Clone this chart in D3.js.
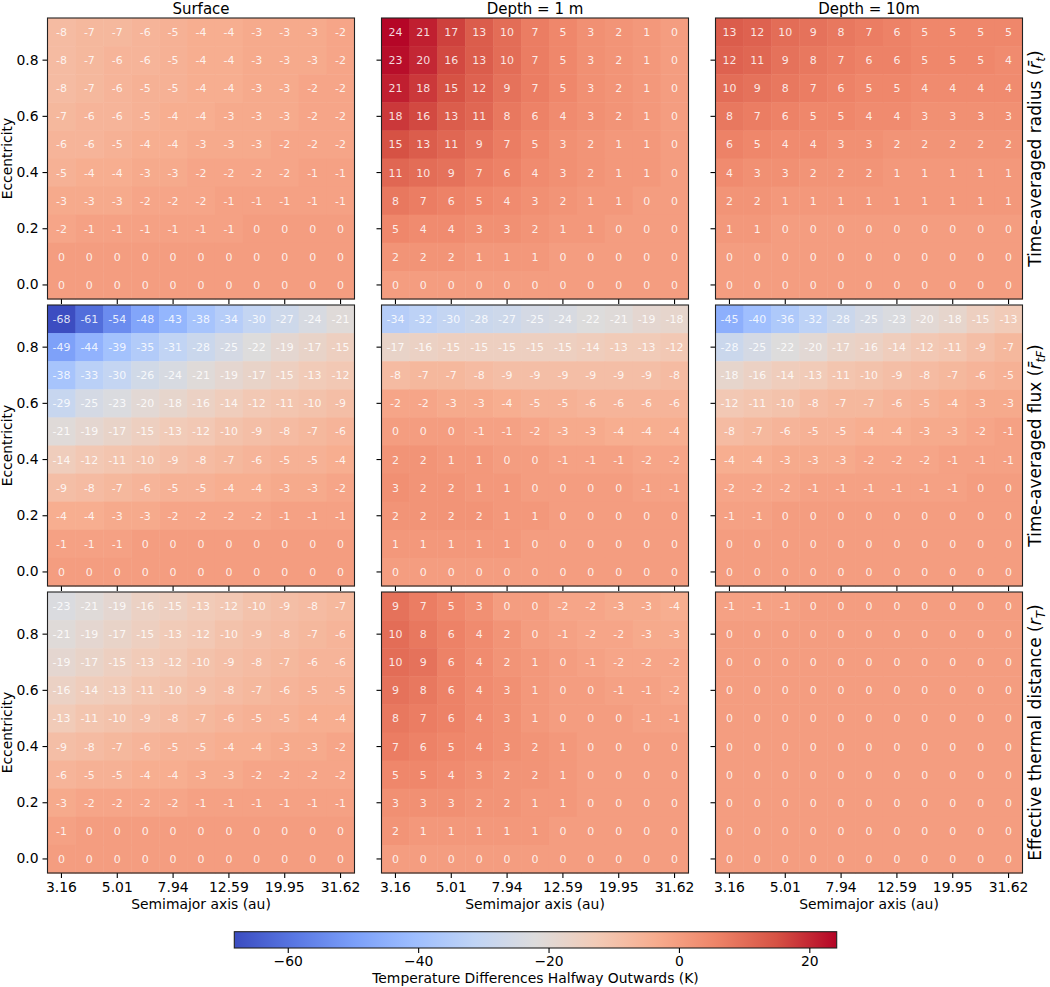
<!DOCTYPE html>
<html>
<head>
<meta charset="utf-8">
<script src="https://cdn.jsdelivr.net/npm/d3@7"></script>
<style>
  body { margin: 0; background: #fff; }
  svg { font-family: "DejaVu Sans", sans-serif; }
</style>
</head>
<body>
<div id="chart"></div>
<script>
// axis values
var semimajor = [3.16, 3.98, 5.01, 6.31, 7.94, 10.0, 12.59, 15.85, 19.95, 25.12, 31.62];
// rows from top (e = 0.9) to bottom (e = 0.0)
var eccentricity = [0.9, 0.8, 0.7, 0.6, 0.5, 0.4, 0.3, 0.2, 0.1, 0.0];
var xTickLabels = ["3.16", "5.01", "7.94", "12.59", "19.95", "31.62"];
var yTickValues = [0.0, 0.2, 0.4, 0.6, 0.8];
var colorbarTicks = [-60, -40, -20, 0, 20];
var colorLimits = [-68.2, 24.2];
var depthTitles = ["Surface", "Depth = 1 m", "Depth = 10m"];

// temperature differences (K), one grid per panel
var surfaceRadius = [
  [-8, -7, -7, -6, -5, -4, -4, -3, -3, -3, -2],
  [-8, -7, -6, -6, -5, -4, -4, -3, -3, -3, -2],
  [-8, -7, -6, -5, -5, -4, -4, -3, -3, -2, -2],
  [-7, -6, -6, -5, -4, -4, -3, -3, -3, -2, -2],
  [-6, -6, -5, -4, -4, -3, -3, -3, -2, -2, -2],
  [-5, -4, -4, -3, -3, -2, -2, -2, -2, -1, -1],
  [-3, -3, -3, -2, -2, -2, -1, -1, -1, -1, -1],
  [-2, -1, -1, -1, -1, -1, -1, 0, 0, 0, 0],
  [0, 0, 0, 0, 0, 0, 0, 0, 0, 0, 0],
  [0, 0, 0, 0, 0, 0, 0, 0, 0, 0, 0]
];
var depth1Radius = [
  [24, 21, 17, 13, 10, 7, 5, 3, 2, 1, 0],
  [23, 20, 16, 13, 10, 7, 5, 3, 2, 1, 0],
  [21, 18, 15, 12, 9, 7, 5, 3, 2, 1, 0],
  [18, 16, 13, 11, 8, 6, 4, 3, 2, 1, 0],
  [15, 13, 11, 9, 7, 5, 3, 2, 1, 1, 0],
  [11, 10, 9, 7, 6, 4, 3, 2, 1, 1, 0],
  [8, 7, 6, 5, 4, 3, 2, 1, 1, 0, 0],
  [5, 4, 4, 3, 3, 2, 1, 1, 0, 0, 0],
  [2, 2, 2, 1, 1, 1, 0, 0, 0, 0, 0],
  [0, 0, 0, 0, 0, 0, 0, 0, 0, 0, 0]
];
var depth10Radius = [
  [13, 12, 10, 9, 8, 7, 6, 5, 5, 5, 5],
  [12, 11, 9, 8, 7, 6, 6, 5, 5, 5, 4],
  [10, 9, 8, 7, 6, 5, 5, 4, 4, 4, 4],
  [8, 7, 6, 5, 5, 4, 4, 3, 3, 3, 3],
  [6, 5, 4, 4, 3, 3, 2, 2, 2, 2, 2],
  [4, 3, 3, 2, 2, 2, 1, 1, 1, 1, 1],
  [2, 2, 1, 1, 1, 1, 1, 1, 1, 1, 1],
  [1, 1, 0, 0, 0, 0, 0, 0, 0, 0, 0],
  [0, 0, 0, 0, 0, 0, 0, 0, 0, 0, 0],
  [0, 0, 0, 0, 0, 0, 0, 0, 0, 0, 0]
];
var surfaceFlux = [
  [-68, -61, -54, -48, -43, -38, -34, -30, -27, -24, -21],
  [-49, -44, -39, -35, -31, -28, -25, -22, -19, -17, -15],
  [-38, -33, -30, -26, -24, -21, -19, -17, -15, -13, -12],
  [-29, -25, -23, -20, -18, -16, -14, -12, -11, -10, -9],
  [-21, -19, -17, -15, -13, -12, -10, -9, -8, -7, -6],
  [-14, -12, -11, -10, -9, -8, -7, -6, -5, -5, -4],
  [-9, -8, -7, -6, -5, -5, -4, -4, -3, -3, -2],
  [-4, -4, -3, -3, -2, -2, -2, -2, -1, -1, -1],
  [-1, -1, -1, 0, 0, 0, 0, 0, 0, 0, 0],
  [0, 0, 0, 0, 0, 0, 0, 0, 0, 0, 0]
];
var depth1Flux = [
  [-34, -32, -30, -28, -27, -25, -24, -22, -21, -19, -18],
  [-17, -16, -15, -15, -15, -15, -15, -14, -13, -13, -12],
  [-8, -7, -7, -8, -9, -9, -9, -9, -9, -9, -8],
  [-2, -2, -3, -3, -4, -5, -5, -6, -6, -6, -6],
  [0, 0, 0, -1, -1, -2, -3, -3, -4, -4, -4],
  [2, 2, 1, 1, 0, 0, -1, -1, -1, -2, -2],
  [3, 2, 2, 1, 1, 0, 0, 0, 0, -1, -1],
  [2, 2, 2, 2, 1, 1, 0, 0, 0, 0, 0],
  [1, 1, 1, 1, 1, 0, 0, 0, 0, 0, 0],
  [0, 0, 0, 0, 0, 0, 0, 0, 0, 0, 0]
];
var depth10Flux = [
  [-45, -40, -36, -32, -28, -25, -23, -20, -18, -15, -13],
  [-28, -25, -22, -20, -17, -16, -14, -12, -11, -9, -7],
  [-18, -16, -14, -13, -11, -10, -9, -8, -7, -6, -5],
  [-12, -11, -10, -8, -7, -7, -6, -5, -4, -3, -3],
  [-8, -7, -6, -5, -5, -4, -4, -3, -3, -2, -1],
  [-4, -4, -3, -3, -3, -2, -2, -2, -1, -1, -1],
  [-2, -2, -2, -1, -1, -1, -1, -1, -1, 0, 0],
  [-1, -1, 0, 0, 0, 0, 0, 0, 0, 0, 0],
  [0, 0, 0, 0, 0, 0, 0, 0, 0, 0, 0],
  [0, 0, 0, 0, 0, 0, 0, 0, 0, 0, 0]
];
var surfaceThermal = [
  [-23, -21, -19, -16, -15, -13, -12, -10, -9, -8, -7],
  [-21, -19, -17, -15, -13, -12, -10, -9, -8, -7, -6],
  [-19, -17, -15, -13, -12, -10, -9, -8, -7, -6, -6],
  [-16, -14, -13, -11, -10, -9, -8, -7, -6, -5, -5],
  [-13, -11, -10, -9, -8, -7, -6, -5, -5, -4, -4],
  [-9, -8, -7, -6, -5, -5, -4, -4, -3, -3, -2],
  [-6, -5, -5, -4, -4, -3, -3, -2, -2, -2, -2],
  [-3, -2, -2, -2, -2, -1, -1, -1, -1, -1, -1],
  [-1, 0, 0, 0, 0, 0, 0, 0, 0, 0, 0],
  [0, 0, 0, 0, 0, 0, 0, 0, 0, 0, 0]
];
var depth1Thermal = [
  [9, 7, 5, 3, 0, 0, -2, -2, -3, -3, -4],
  [10, 8, 6, 4, 2, 0, -1, -2, -2, -3, -3],
  [10, 9, 6, 4, 2, 1, 0, -1, -2, -2, -2],
  [9, 8, 6, 4, 3, 1, 0, 0, -1, -1, -2],
  [8, 7, 6, 4, 3, 1, 0, 0, 0, -1, -1],
  [7, 6, 5, 4, 3, 2, 1, 0, 0, 0, 0],
  [5, 5, 4, 3, 2, 2, 1, 0, 0, 0, 0],
  [3, 3, 3, 2, 2, 1, 1, 0, 0, 0, 0],
  [2, 1, 1, 1, 1, 1, 0, 0, 0, 0, 0],
  [0, 0, 0, 0, 0, 0, 0, 0, 0, 0, 0]
];
var depth10Thermal = [
  [-1, -1, -1, 0, 0, 0, 0, 0, 0, 0, 0],
  [0, 0, 0, 0, 0, 0, 0, 0, 0, 0, 0],
  [0, 0, 0, 0, 0, 0, 0, 0, 0, 0, 0],
  [0, 0, 0, 0, 0, 0, 0, 0, 0, 0, 0],
  [0, 0, 0, 0, 0, 0, 0, 0, 0, 0, 0],
  [0, 0, 0, 0, 0, 0, 0, 0, 0, 0, 0],
  [0, 0, 0, 0, 0, 0, 0, 0, 0, 0, 0],
  [0, 0, 0, 0, 0, 0, 0, 0, 0, 0, 0],
  [0, 0, 0, 0, 0, 0, 0, 0, 0, 0, 0],
  [0, 0, 0, 0, 0, 0, 0, 0, 0, 0, 0]
];

var grids = [
  [surfaceRadius, depth1Radius, depth10Radius],
  [surfaceFlux, depth1Flux, depth10Flux],
  [surfaceThermal, depth1Thermal, depth10Thermal]
];

// right-hand row labels: [text, bar over r?, subscript]
var rowLabels = [
  ["Time-averaged radius", true, "t"],
  ["Time-averaged flux", true, "tF"],
  ["Effective thermal distance", false, "T"]
];

var width = 1050, height = 987;
var colLeft = [47.5, 381.5, 715.5], panelW = 307;
var rowTop = [18, 305, 592], panelH = 281;
var tickFont = "13.9px";

// matplotlib coolwarm, sampled at 11 stops
var coolwarm = d3.piecewise(d3.interpolateRgb, [
  "#3b4cc0", "#5977e3", "#7b9ff9", "#9ebeff", "#c0d4f5", "#dddcdc",
  "#f2cbb7", "#f7ac8e", "#ee8468", "#d65244", "#b40426"
]);
var color = d3.scaleSequential(coolwarm).domain(colorLimits);

var svg = d3.select("#chart").append("svg")
  .attr("width", width)
  .attr("height", height);

var x = d3.scaleBand().domain(semimajor).range([0, panelW]);
var y = d3.scaleBand().domain(eccentricity).range([0, panelH]);

function styleAxis(a) {
  a.select(".domain").remove();
  a.selectAll("text")
    .attr("font-family", "DejaVu Sans, sans-serif")
    .attr("font-size", tickFont)
    .attr("fill", "#000");
  a.selectAll("line").attr("stroke", "#000").attr("stroke-width", 1.1);
}

grids.forEach(function (row, ri) {
  row.forEach(function (grid, ci) {
    var g = svg.append("g")
      .attr("transform", "translate(" + colLeft[ci] + "," + rowTop[ri] + ")");

    var cells = [];
    grid.forEach(function (vals, r) {
      vals.forEach(function (v, c) {
        cells.push({ a: semimajor[c], e: eccentricity[r], v: v });
      });
    });

    g.selectAll("rect.cell")
      .data(cells)
      .enter()
      .append("rect")
      .attr("class", "cell")
      .attr("x", function (d) { return x(d.a); })
      .attr("y", function (d) { return y(d.e); })
      .attr("width", x.bandwidth() + 0.5)
      .attr("height", y.bandwidth() + 0.5)
      .attr("fill", function (d) { return color(d.v); });

    g.selectAll("text.val")
      .data(cells)
      .enter()
      .append("text")
      .attr("class", "val")
      .attr("x", function (d) { return x(d.a) + x.bandwidth() / 2; })
      .attr("y", function (d) { return y(d.e) + y.bandwidth() / 2; })
      .attr("dy", "0.36em")
      .attr("text-anchor", "middle")
      .attr("font-size", "11px")
      .attr("fill", "#fff")
      .attr("fill-opacity", 0.85)
      .text(function (d) { return String(d.v); });

    // axes
    var xAxis = d3.axisBottom(x)
      .tickValues(xTickLabels.map(Number))
      .tickSize(5)
      .tickSizeOuter(0)
      .tickFormat(ri === 2 ? function (d) { return xTickLabels[xTickLabels.map(Number).indexOf(d)]; } : "");
    var ax = g.append("g")
      .attr("transform", "translate(0," + panelH + ")")
      .call(xAxis);

    var yAxis = d3.axisLeft(y)
      .tickValues(yTickValues)
      .tickSize(5)
      .tickSizeOuter(0)
      .tickFormat(ci === 0 ? d3.format(".1f") : "");
    var ay = g.append("g").call(yAxis);

    styleAxis(ax);
    styleAxis(ay);
    ax.selectAll("text").attr("dy", "0.76em");
    ay.selectAll("text").attr("dx", "-1px");

    g.append("rect")
      .attr("width", panelW)
      .attr("height", panelH)
      .attr("fill", "none")
      .attr("stroke", "#222")
      .attr("stroke-width", 1.1);

    if (ri === 0) {
      g.append("text")
        .attr("x", panelW / 2)
        .attr("y", -4)
        .attr("text-anchor", "middle")
        .attr("font-size", "15px")
        .text(depthTitles[ci]);
    }
    if (ri === 2) {
      g.append("text")
        .attr("x", panelW / 2)
        .attr("y", panelH + 36)
        .attr("text-anchor", "middle")
        .attr("font-size", tickFont)
        .text("Semimajor axis (au)");
    }
    if (ci === 0) {
      g.append("text")
        .attr("transform", "translate(" + (12 - colLeft[0]) + "," + panelH / 2 + ") rotate(-90)")
        .attr("text-anchor", "middle")
        .attr("font-size", tickFont)
        .text("Eccentricity");
    }
    if (ci === 2) {
      var lab = rowLabels[ri];
      var t = g.append("text")
        .attr("transform", "translate(" + (1041 - colLeft[2]) + "," + panelH / 2 + ") rotate(-90)")
        .attr("text-anchor", "middle")
        .attr("font-size", "17px");
      t.append("tspan").text(lab[0] + " (");
      t.append("tspan").attr("font-style", "italic").text(lab[1] ? "r\u0304" : "r");
      t.append("tspan").attr("font-style", "italic").attr("font-size", "12px").attr("dy", "4").text(lab[2]);
      t.append("tspan").attr("dy", "-4").text(")");
    }
  });
});

// colorbar
var cbLeft = 234.3, cbRight = 836.7, cbTop = 931.7, cbBottom = 948;
var cbX = d3.scaleLinear().domain(colorLimits).range([cbLeft, cbRight]);
var defs = svg.append("defs");
var grad = defs.append("linearGradient").attr("id", "cbgrad");
d3.range(0, 1.0001, 0.05).forEach(function (s) {
  grad.append("stop").attr("offset", s).attr("stop-color", coolwarm(s));
});
svg.append("rect")
  .attr("x", cbLeft).attr("y", cbTop)
  .attr("width", cbRight - cbLeft).attr("height", cbBottom - cbTop)
  .attr("fill", "url(#cbgrad)")
  .attr("stroke", "#222")
  .attr("stroke-width", 1.1);

var cbAxis = svg.append("g")
  .attr("transform", "translate(0," + cbBottom + ")")
  .call(d3.axisBottom(cbX).tickValues(colorbarTicks).tickSize(5).tickSizeOuter(0));
styleAxis(cbAxis);
cbAxis.selectAll("text").attr("dy", "0.71em");

svg.append("text")
  .attr("x", (cbLeft + cbRight) / 2).attr("y", 983)
  .attr("text-anchor", "middle")
  .attr("font-size", tickFont)
  .text("Temperature Differences Halfway Outwards (K)");
</script>
</body>
</html>
